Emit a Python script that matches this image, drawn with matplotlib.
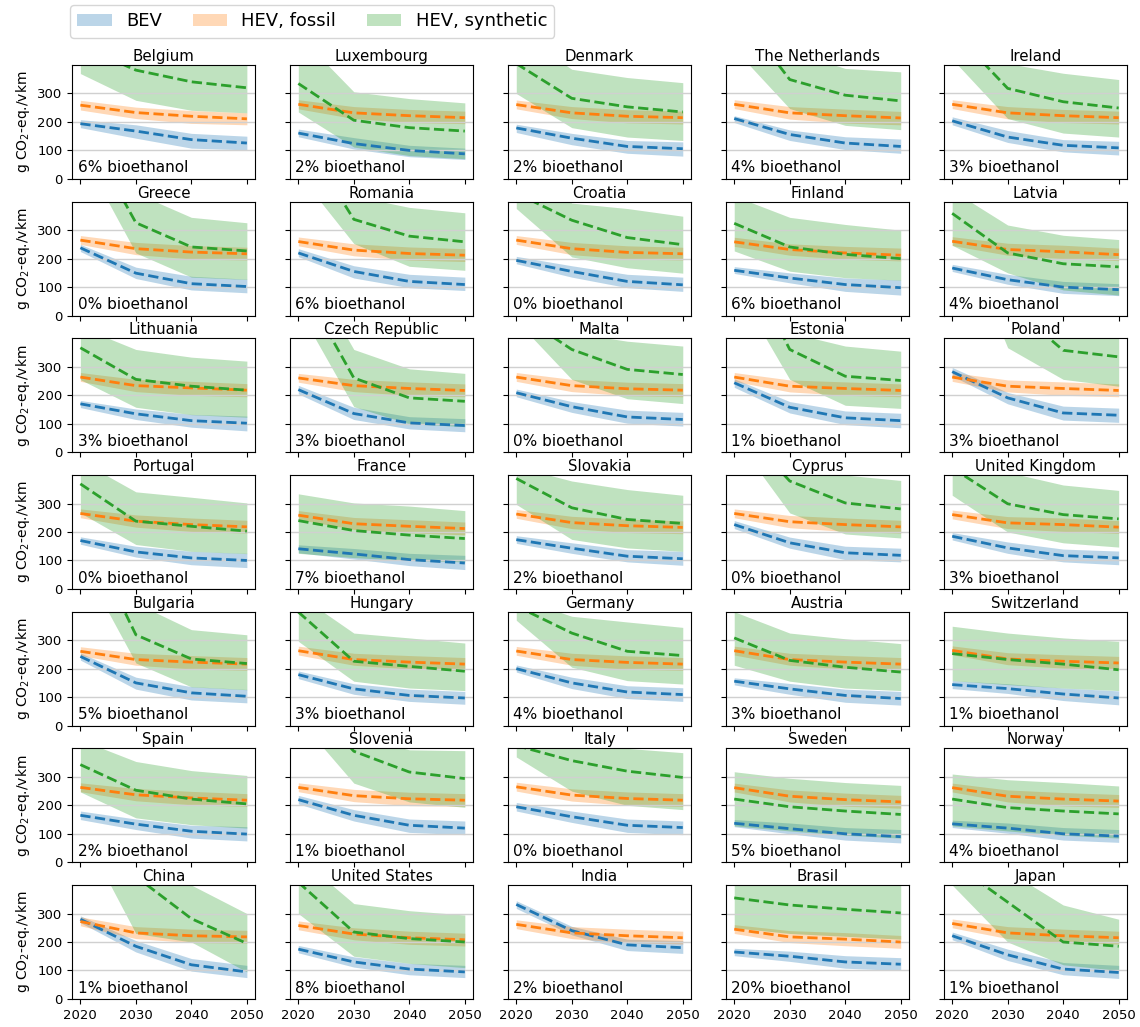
import matplotlib.pyplot as plt
from matplotlib.patches import Patch

# ── Data (g CO2-eq./vkm), years 2020/2030/2040/2050 ──────────────────────────
YEARS = [2020, 2030, 2040, 2050]

COUNTRIES = [
    "Belgium", "Luxembourg", "Denmark", "The Netherlands", "Ireland",
    "Greece", "Romania", "Croatia", "Finland", "Latvia",
    "Lithuania", "Czech Republic", "Malta", "Estonia", "Poland",
    "Portugal", "France", "Slovakia", "Cyprus", "United Kingdom",
    "Bulgaria", "Hungary", "Germany", "Austria", "Switzerland",
    "Spain", "Slovenia", "Italy", "Sweden", "Norway",
    "China", "United States", "India", "Brasil", "Japan",
]
BIOETHANOL = [6, 2, 2, 4, 3, 0, 6, 0, 6, 4, 3, 3, 0, 1, 3, 0, 7, 2, 0, 3,
              5, 3, 4, 3, 1, 2, 1, 0, 5, 4, 1, 8, 2, 20, 1]

BEV_MEAN = [
    [194, 168, 138, 126], [161, 124, 100, 88], [179, 143, 114, 106], [212, 156, 126, 114], [204, 147, 118, 109],
    [238, 149, 112, 102], [220, 155, 120, 109], [194, 155, 120, 108], [159, 132, 109, 98], [167, 126, 100, 91],
    [170, 135, 111, 102], [220, 136, 103, 94], [209, 160, 124, 115], [244, 158, 121, 111], [283, 191, 138, 130],
    [170, 130, 109, 100], [141, 123, 103, 91], [173, 143, 115, 106], [226, 162, 127, 118], [185, 144, 117, 109],
    [243, 150, 115, 103], [179, 129, 106, 97], [200, 150, 118, 109], [156, 129, 106, 95], [144, 130, 111, 97],
    [165, 134, 109, 99], [220, 165, 130, 120], [195, 160, 130, 122], [137, 118, 100, 90], [135, 120, 100, 92],
    [280, 185, 120, 95], [175, 130, 105, 95], [332, 240, 190, 180], [165, 150, 130, 122], [222, 155, 105, 93],
]
BEV_LOW = [
    [180, 143, 108, 102], [148, 105, 78, 68], [163, 120, 90, 80], [198, 135, 103, 90], [190, 128, 95, 84],
    [225, 130, 90, 80], [207, 132, 98, 88], [182, 135, 98, 85], [148, 115, 85, 72], [155, 110, 78, 70],
    [157, 115, 88, 75], [205, 115, 82, 72], [195, 140, 102, 92], [228, 138, 97, 86], [268, 170, 113, 105],
    [157, 112, 85, 75], [127, 105, 82, 68], [160, 125, 95, 83], [212, 143, 103, 95], [172, 125, 95, 85],
    [230, 128, 90, 80], [165, 110, 85, 75], [188, 130, 95, 85], [143, 110, 82, 72], [130, 113, 88, 73],
    [150, 115, 85, 75], [205, 145, 105, 97], [180, 140, 105, 97], [125, 100, 78, 68], [122, 102, 78, 70],
    [268, 165, 98, 75], [162, 112, 85, 75], [318, 225, 170, 160], [152, 132, 108, 100], [208, 135, 85, 72],
]
BEV_HIGH = [
    [208, 190, 160, 150], [175, 145, 118, 108], [192, 160, 135, 130], [222, 172, 148, 140], [218, 170, 138, 132],
    [250, 170, 138, 128], [235, 175, 145, 135], [208, 175, 145, 135], [172, 150, 132, 125], [180, 145, 120, 112],
    [182, 152, 133, 127], [235, 158, 125, 118], [222, 178, 148, 140], [258, 178, 145, 137], [298, 210, 162, 155],
    [183, 150, 132, 125], [155, 142, 125, 118], [187, 162, 138, 132], [240, 182, 150, 143], [198, 165, 140, 133],
    [255, 170, 137, 127], [192, 147, 128, 120], [213, 170, 140, 133], [168, 148, 128, 120], [158, 147, 132, 122],
    [180, 152, 130, 125], [235, 185, 152, 145], [210, 180, 152, 145], [150, 138, 122, 115], [148, 138, 122, 115],
    [292, 205, 142, 118], [188, 148, 125, 118], [345, 255, 210, 205], [178, 168, 152, 145], [235, 175, 128, 118],
]

FOSSIL_MEAN = [
    [259, 233, 220, 211], [262, 232, 222, 215], [261, 232, 220, 215], [262, 232, 222, 214], [262, 232, 222, 215],
    [265, 235, 223, 217], [260, 230, 218, 212], [265, 235, 222, 217], [259, 232, 220, 212], [261, 232, 224, 214],
    [264, 234, 226, 218], [261, 234, 224, 217], [264, 234, 223, 218], [264, 232, 224, 217], [264, 232, 224, 217],
    [265, 238, 226, 218], [259, 229, 220, 212], [263, 233, 222, 216], [265, 236, 226, 218], [261, 232, 226, 217],
    [261, 232, 223, 216], [263, 232, 223, 216], [262, 232, 222, 216], [263, 232, 223, 216], [264, 234, 226, 220],
    [263, 237, 226, 218], [263, 234, 223, 218], [265, 236, 224, 218], [262, 232, 220, 212], [262, 232, 222, 215],
    [272, 232, 222, 218], [258, 228, 215, 208], [262, 232, 222, 215], [245, 218, 210, 200], [265, 232, 222, 215],
]
FOSSIL_LOW = [
    [242, 212, 195, 190], [246, 212, 198, 194], [246, 212, 197, 193], [247, 210, 196, 190], [247, 211, 198, 193],
    [250, 214, 199, 195], [245, 210, 195, 190], [250, 214, 199, 195], [243, 212, 198, 192], [246, 212, 200, 193],
    [249, 213, 200, 195], [246, 213, 200, 195], [249, 213, 199, 195], [249, 212, 200, 195], [249, 212, 200, 195],
    [250, 217, 202, 196], [244, 209, 197, 190], [248, 212, 198, 194], [250, 215, 202, 196], [246, 212, 202, 195],
    [246, 212, 199, 194], [248, 212, 199, 194], [247, 212, 198, 194], [248, 212, 199, 194], [249, 214, 202, 198],
    [248, 216, 202, 196], [248, 213, 199, 196], [250, 215, 200, 196], [247, 212, 197, 190], [247, 212, 198, 193],
    [257, 212, 198, 196], [243, 208, 192, 186], [247, 212, 198, 193], [230, 198, 187, 178], [250, 212, 198, 193],
]
FOSSIL_HIGH = [
    [276, 252, 240, 232], [278, 254, 244, 238], [277, 254, 243, 238], [278, 254, 245, 237], [278, 254, 244, 238],
    [281, 257, 246, 240], [276, 252, 241, 235], [281, 257, 245, 240], [275, 252, 243, 237], [277, 254, 247, 237],
    [280, 256, 249, 241], [277, 256, 247, 240], [280, 256, 246, 241], [280, 254, 247, 240], [280, 254, 247, 240],
    [281, 260, 249, 241], [275, 251, 243, 235], [279, 255, 245, 239], [281, 258, 249, 241], [277, 254, 249, 240],
    [277, 254, 246, 239], [279, 254, 246, 239], [278, 254, 245, 239], [279, 254, 246, 239], [280, 256, 249, 243],
    [279, 259, 249, 241], [279, 256, 246, 241], [281, 258, 247, 241], [278, 254, 243, 235], [278, 254, 245, 238],
    [288, 254, 245, 241], [274, 250, 238, 231], [278, 254, 245, 238], [261, 240, 233, 223], [281, 254, 245, 238],
]

SYNTH_MEAN = [
    [468, 382, 341, 320], [335, 206, 180, 168], [405, 283, 253, 235], [604, 349, 294, 274], [523, 318, 271, 249],
    [680, 326, 241, 227], [650, 338, 279, 259], [430, 335, 274, 249], [324, 241, 215, 200], [359, 220, 182, 171],
    [367, 256, 232, 218], [610, 261, 191, 179], [490, 361, 291, 273], [750, 361, 267, 252], [950, 526, 358, 335],
    [369, 238, 220, 203], [240, 205, 189, 177], [388, 285, 244, 230], [590, 379, 302, 281], [425, 299, 261, 246],
    [720, 319, 234, 218], [399, 226, 208, 191], [420, 325, 261, 246], [308, 229, 205, 188], [253, 232, 216, 196],
    [343, 253, 222, 205], [600, 390, 317, 294], [410, 357, 320, 298], [222, 195, 180, 168], [222, 192, 180, 170],
    [800, 430, 282, 195], [410, 235, 212, 200], [1200, 900, 700, 600], [355, 330, 315, 302], [480, 340, 200, 185],
]
SYNTH_LOW = [
    [370, 276, 241, 232], [235, 112, 82, 71], [300, 180, 147, 135], [457, 247, 188, 173], [421, 212, 161, 147],
    [580, 220, 135, 127], [498, 253, 173, 159], [376, 206, 168, 149], [227, 156, 133, 124], [247, 150, 90, 72],
    [255, 158, 132, 123], [504, 160, 100, 90], [462, 256, 188, 171], [591, 256, 165, 154], [840, 367, 256, 232],
    [267, 156, 132, 124], [125, 110, 100, 95], [297, 174, 144, 132], [533, 267, 193, 179], [329, 200, 162, 147],
    [580, 220, 136, 126], [296, 156, 132, 123], [370, 205, 158, 146], [212, 156, 132, 123], [158, 144, 132, 123],
    [247, 156, 132, 120], [504, 278, 212, 193], [370, 250, 200, 185], [128, 110, 95, 85], [128, 110, 95, 85],
    [600, 230, 200, 95], [300, 150, 125, 110], [1000, 700, 550, 450], [250, 230, 220, 210], [400, 200, 120, 100],
]
SYNTH_HIGH = [
    [600, 520, 480, 460], [506, 306, 282, 267], [520, 385, 356, 338], [700, 450, 388, 376], [650, 405, 371, 349],
    [800, 430, 345, 326], [750, 420, 380, 361], [550, 395, 376, 349], [420, 345, 320, 300], [440, 318, 282, 267],
    [440, 361, 334, 320], [700, 361, 293, 277], [520, 420, 390, 373], [850, 420, 373, 355], [1100, 700, 480, 450],
    [450, 341, 322, 302], [334, 302, 291, 275], [430, 379, 349, 329], [700, 460, 400, 381], [480, 410, 365, 346],
    [800, 430, 337, 319], [460, 325, 308, 290], [450, 384, 364, 345], [400, 325, 305, 288], [349, 325, 308, 296],
    [430, 354, 322, 305], [550, 450, 395, 392], [520, 450, 400, 385], [318, 295, 280, 270], [310, 290, 280, 268],
    [900, 600, 400, 300], [500, 335, 310, 295], [1400, 1100, 850, 750], [460, 430, 415, 400], [600, 450, 330, 280],
]

SERIES = [
    ("BEV", "C0", BEV_MEAN, BEV_LOW, BEV_HIGH),
    ("HEV, fossil", "C1", FOSSIL_MEAN, FOSSIL_LOW, FOSSIL_HIGH),
    ("HEV, synthetic", "C2", SYNTH_MEAN, SYNTH_LOW, SYNTH_HIGH),
]

# ── Plot ──────────────────────────────────────────────────────────────────────
fig, axes = plt.subplots(7, 5, figsize=(11.4, 10.27), dpi=100,
                         sharex=True, sharey=True)
fig.subplots_adjust(left=0.0632, right=0.9886, top=0.9367, bottom=0.0273,
                    wspace=0.19, hspace=0.2)

for i, ax in enumerate(axes.flat):
    for name, color, mean, low, high in SERIES:
        ax.fill_between(YEARS, low[i], high[i], color=color, alpha=0.3, lw=0)
        ax.plot(YEARS, mean[i], "--", color=color, lw=2)
    ax.set_title(COUNTRIES[i], fontsize=10.8, pad=3)
    ax.text(0.03, 0.03, f"{BIOETHANOL[i]}% bioethanol", transform=ax.transAxes,
            fontsize=11, ha="left", va="bottom")
    ax.grid(axis="y", color="#d0d0d0", lw=1)
    ax.tick_params(labelsize=9.5)

axes[0, 0].set_ylim(0, 400)
axes[0, 0].set_yticks([0, 100, 200, 300])
axes[0, 0].set_xticks(YEARS)
for ax in axes[:, 0]:
    ax.set_ylabel("g CO$_2$-eq./vkm", fontsize=10)

handles = [Patch(facecolor=c, alpha=0.3, label=n) for n, c, *_ in SERIES]
fig.legend(handles=handles, loc="upper left", ncol=3, fontsize=13,
           bbox_to_anchor=(0.0614, 0.995), borderaxespad=0,
           handlelength=1.9, handletextpad=0.8, columnspacing=1.7)

plt.savefig("out.png", dpi=100)
